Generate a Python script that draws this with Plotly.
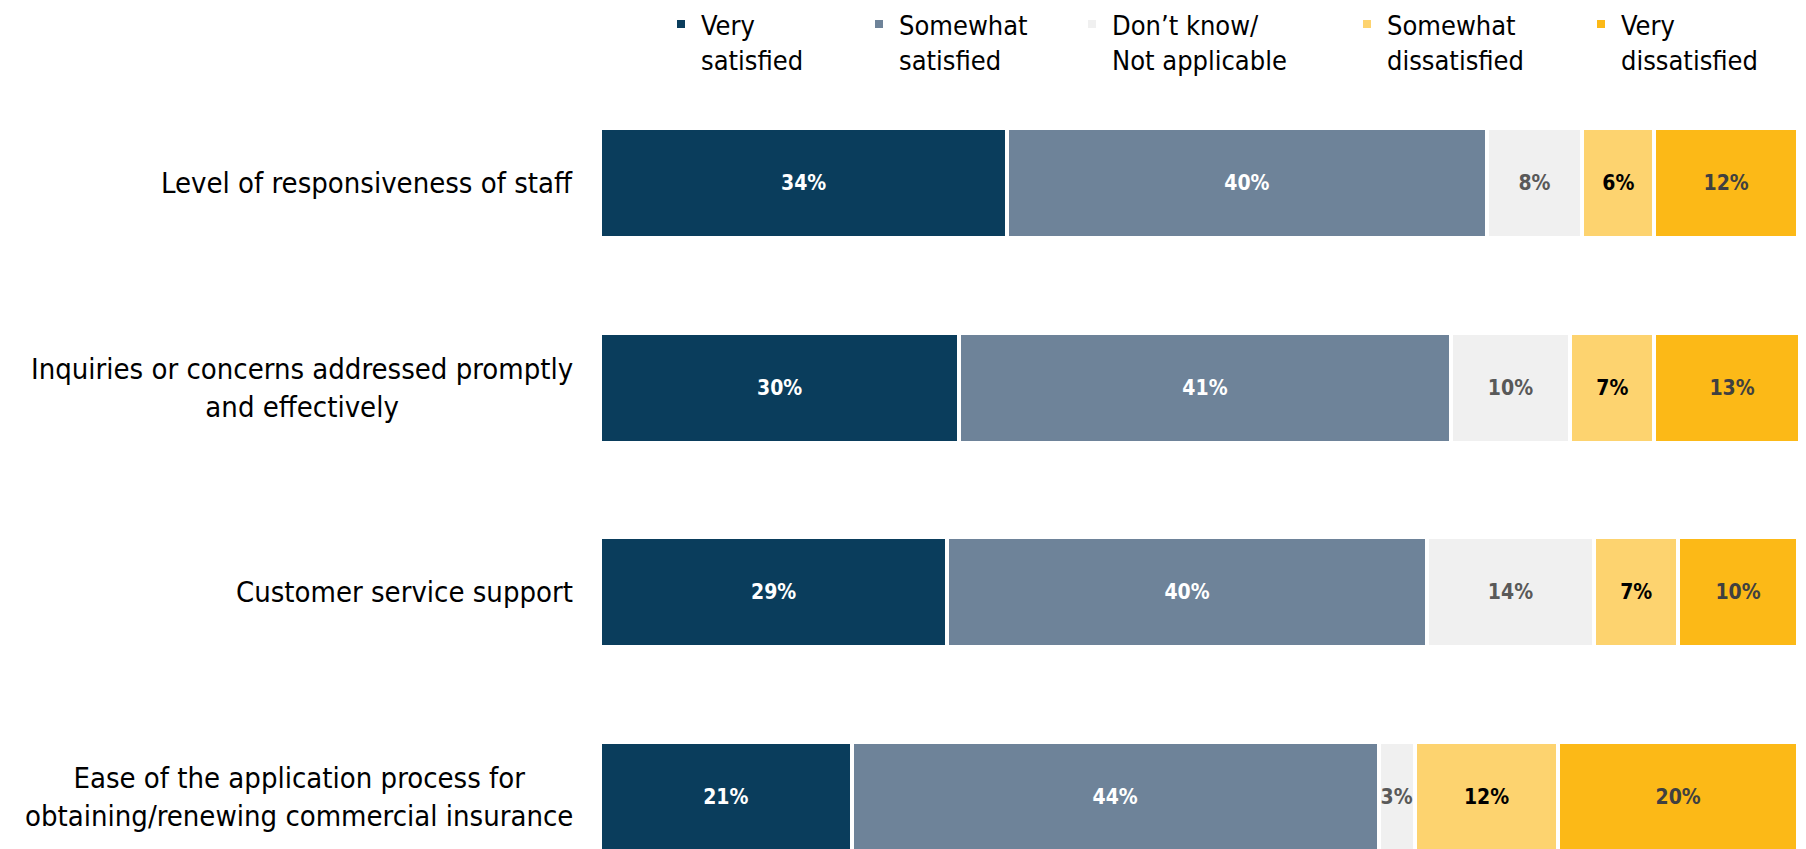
import plotly.graph_objects as go

# Survey items (top to bottom)
categories = [
    "Level of responsiveness of staff",
    "Inquiries or concerns addressed promptly<br>and effectively",
    "Customer service support",
    "Ease of the application process for<br>obtaining/renewing commercial insurance",
]

# Response shares (%) per satisfaction level
very_satisfied = [34, 30, 29, 21]
somewhat_satisfied = [40, 41, 40, 44]
dont_know = [8, 10, 14, 3]
somewhat_dissatisfied = [6, 7, 7, 12]
very_dissatisfied = [12, 13, 10, 20]

series_names = [
    "Very<br>satisfied",
    "Somewhat<br>satisfied",
    "Don’t know/<br>Not applicable",
    "Somewhat<br>dissatisfied",
    "Very<br>dissatisfied",
]
series_values = [very_satisfied, somewhat_satisfied, dont_know,
                 somewhat_dissatisfied, very_dissatisfied]
colors = ["#0A3D5C", "#6E8399", "#F0F0F0", "#FDD36F", "#FCB917"]
text_colors = ["#FFFFFF", "#FFFFFF", "#595959", "#000000", "#404040"]
legend_x_px = [661, 859, 1072, 1347, 1581]

FONT = "DejaVu Sans Condensed, Liberation Sans Narrow, DejaVu Sans, sans-serif"
W, H = 1806, 849

fig = go.Figure()
for i, (name, vals) in enumerate(zip(series_names, series_values)):
    fig.add_trace(go.Bar(
        y=categories,
        x=vals,
        name=name,
        orientation="h",
        marker=dict(color=colors[i], line=dict(color="white", width=4)),
        text=[f"{v}%" for v in vals],
        textposition="inside",
        insidetextanchor="middle",
        textangle=0,
        constraintext="none",
        textfont=dict(family=FONT, size=21, color=text_colors[i], weight="bold"),
        legend="legend" if i == 0 else f"legend{i + 1}",
        showlegend=True,
        hoverinfo="skip",
    ))

layout_legends = {}
for i, xp in enumerate(legend_x_px):
    key = "legend" if i == 0 else f"legend{i + 1}"
    layout_legends[key] = dict(
        orientation="h",
        xref="container", yref="container",
        x=xp / W, y=1,
        xanchor="left", yanchor="top",
        valign="top",
        font=dict(family=FONT, size=27, color="#000000"),
        bgcolor="rgba(0,0,0,0)",
        visible=True,
    )

annotations = [
    dict(
        x=0, xref="paper", xshift=-25, xanchor="right",
        y=cat, yref="y", yanchor="middle",
        text=cat, showarrow=False, align="center",
        font=dict(family=FONT, size=29, color="#000000"),
    )
    for cat in categories
]

fig.update_layout(
    width=W, height=H,
    barmode="stack",
    bargap=0.463,
    showlegend=True,
    margin=dict(l=600, r=8, t=90, b=0),
    plot_bgcolor="white",
    paper_bgcolor="white",
    xaxis=dict(range=[0, 100], visible=False, fixedrange=True),
    yaxis=dict(
        type="category",
        categoryorder="array", categoryarray=categories,
        range=[3.254, -0.454],
        showticklabels=False, showgrid=False, zeroline=False,
        fixedrange=True,
    ),
    annotations=annotations,
    **layout_legends,
)

fig.write_html("out.html")
